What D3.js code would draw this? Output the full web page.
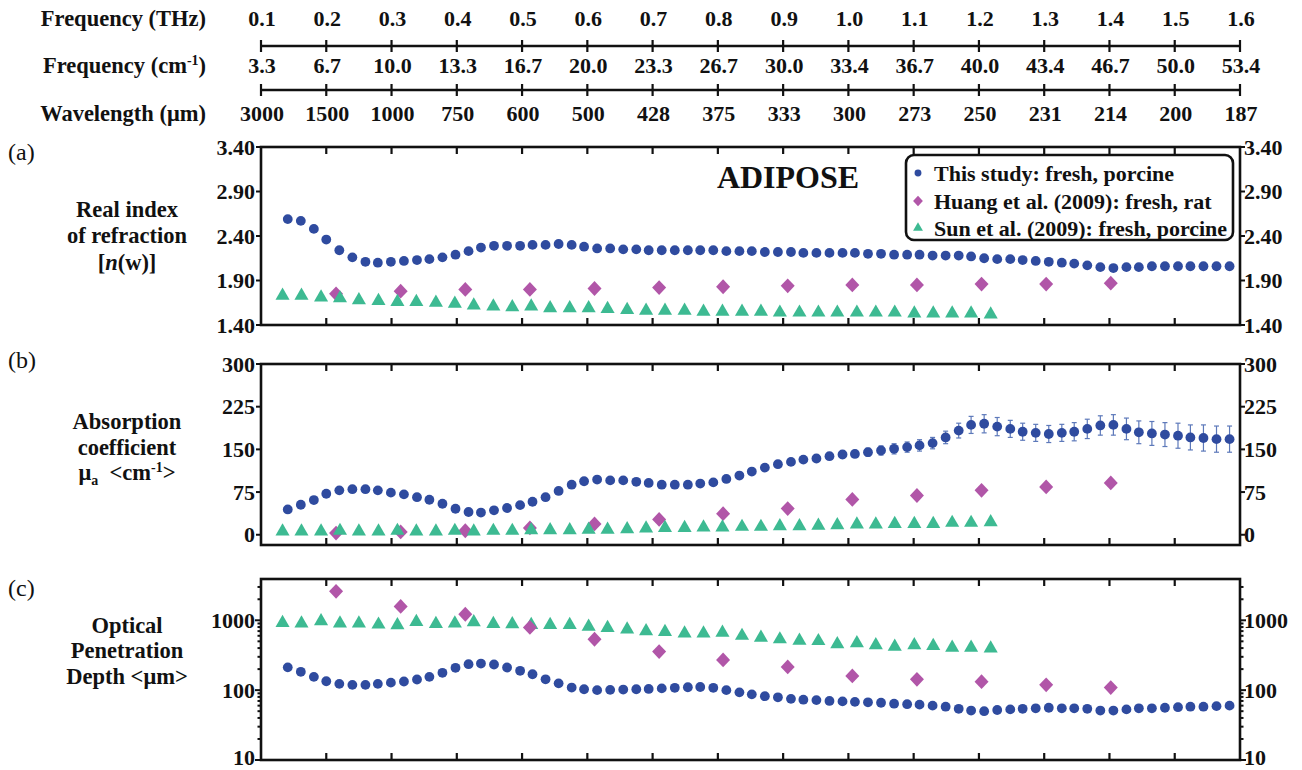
<!DOCTYPE html>
<html>
<head>
<meta charset="utf-8">
<script src="https://cdn.jsdelivr.net/npm/d3@7"></script>
<style>
  body { margin: 0; background: #fff; }
  svg { display: block; }
  text { font-family: "Liberation Serif", "Times New Roman", "DejaVu Serif", serif; font-weight: bold; fill: #111; }
</style>
</head>
<body>
<svg id="chart" width="1302" height="770"></svg>
<script>
// ---- top frequency / wavelength scales
const thzTicks = [0.1, 0.2, 0.3, 0.4, 0.5, 0.6, 0.7, 0.8, 0.9, 1.0, 1.1, 1.2, 1.3, 1.4, 1.5, 1.6];
const cmLabels = ["3.3", "6.7", "10.0", "13.3", "16.7", "20.0", "23.3", "26.7", "30.0", "33.4", "36.7", "40.0", "43.4", "46.7", "50.0", "53.4"];
const wlLabels = ["3000", "1500", "1000", "750", "600", "500", "428", "375", "333", "300", "273", "250", "231", "214", "200", "187"];

// ---- this study: fresh, porcine
const studyThz = [0.141, 0.161, 0.181, 0.200, 0.220, 0.240, 0.260, 0.279, 0.299, 0.319,
  0.339, 0.358, 0.378, 0.398, 0.418, 0.437, 0.457, 0.477, 0.497, 0.516,
  0.536, 0.556, 0.576, 0.595, 0.615, 0.635, 0.655, 0.675, 0.694, 0.714,
  0.734, 0.754, 0.773, 0.793, 0.813, 0.833, 0.852, 0.872, 0.892, 0.912,
  0.931, 0.951, 0.971, 0.991, 1.010, 1.030, 1.050, 1.070, 1.090, 1.109,
  1.129, 1.149, 1.169, 1.188, 1.208, 1.228, 1.248, 1.267, 1.287, 1.307,
  1.327, 1.346, 1.366, 1.386, 1.406, 1.426, 1.445, 1.465, 1.485, 1.505,
  1.524, 1.544, 1.564, 1.584];
const studyN = [2.59, 2.57, 2.48, 2.36, 2.24, 2.16, 2.11, 2.10, 2.11, 2.12,
  2.13, 2.14, 2.16, 2.19, 2.23, 2.27, 2.29, 2.29, 2.29, 2.30,
  2.30, 2.31, 2.30, 2.28, 2.26, 2.26, 2.25, 2.25, 2.24, 2.24,
  2.24, 2.24, 2.24, 2.24, 2.23, 2.23, 2.23, 2.22, 2.22, 2.22,
  2.21, 2.21, 2.21, 2.21, 2.21, 2.20, 2.20, 2.19, 2.19, 2.19,
  2.18, 2.18, 2.18, 2.17, 2.15, 2.14, 2.14, 2.13, 2.12, 2.11,
  2.10, 2.09, 2.07, 2.05, 2.04, 2.05, 2.05, 2.06, 2.06, 2.06,
  2.06, 2.06, 2.06, 2.06];
const studyMua = [44.5, 52.7, 61, 72, 78, 80, 80, 78, 74, 71,
  66, 61.5, 54.5, 45.7, 40, 39, 43, 47, 52, 58,
  66, 77, 88, 94, 97, 95.5, 95.5, 93, 91, 88,
  88, 88, 90, 92, 98, 104, 111, 118, 124, 128,
  132, 134, 138, 141, 142, 145, 148, 151, 154, 157,
  161, 171, 183, 193, 195, 190, 186, 181, 179, 177,
  179, 181, 186, 192, 193, 186, 180, 178, 176, 174,
  171, 170, 168, 168];
const studyMuaErr = [3, 3, 3, 3, 3, 3, 3, 3, 3, 3,
  3, 3, 3, 3, 3, 3, 3, 3, 3, 3,
  3, 3, 3, 3, 3, 3, 3, 3, 3, 3,
  4, 4, 4, 4, 4, 4, 4, 4, 4, 4,
  5, 5, 5, 6, 6, 7, 8, 9, 9, 10,
  10, 11, 13, 15, 16, 16, 15, 15, 15, 15,
  15, 16, 17, 17, 18, 19, 20, 21, 21, 22,
  22, 23, 23, 23];
const studyDepth = [212, 183, 155, 134, 123, 119, 119, 123, 128, 133,
  142, 155, 177, 209, 235, 240, 233, 211, 189, 169,
  143, 125, 109, 103, 100, 101, 102, 103, 104, 106,
  108, 110, 111, 108, 100, 93, 87, 82, 79, 75,
  73, 72, 70, 69, 68, 67, 66, 64, 63, 62,
  60, 58, 54, 51, 50, 52, 53, 54, 55, 56,
  55, 55, 54, 51, 51, 53, 55, 55, 56, 57,
  58, 58, 59, 60];

// ---- Huang et al. (2009): fresh, rat
const huangThz = [0.215, 0.314, 0.413, 0.512, 0.611, 0.710, 0.808, 0.907, 1.006, 1.105, 1.204, 1.303, 1.402];
const huangN = [1.75, 1.78, 1.80, 1.80, 1.81, 1.82, 1.83, 1.84, 1.85, 1.85, 1.86, 1.86, 1.87];
const huangMua = [3, 5, 7, 12, 19, 27, 37, 46, 62, 69, 78, 84, 91];
const huangDepth = [2600, 1580, 1220, 790, 535, 357, 271, 215, 160, 143, 132, 119, 109];

// ---- Sun et al. (2009): fresh, porcine
const sunThz = [0.133, 0.162, 0.192, 0.221, 0.250, 0.280, 0.309, 0.338, 0.368, 0.397,
  0.426, 0.456, 0.485, 0.514, 0.543, 0.573, 0.602, 0.631, 0.661, 0.690,
  0.719, 0.749, 0.778, 0.807, 0.837, 0.866, 0.895, 0.925, 0.954, 0.983,
  1.013, 1.042, 1.071, 1.101, 1.130, 1.159, 1.188, 1.218];
const sunN = [1.73, 1.73, 1.71, 1.70, 1.68, 1.67, 1.66, 1.66, 1.65, 1.64,
  1.62, 1.61, 1.60, 1.61, 1.59, 1.59, 1.59, 1.58, 1.57, 1.56,
  1.56, 1.56, 1.55, 1.55, 1.55, 1.55, 1.54, 1.54, 1.54, 1.54,
  1.54, 1.54, 1.54, 1.53, 1.53, 1.53, 1.53, 1.52];
const sunMua = [6, 6, 6, 7, 6, 6, 7, 6, 6, 7,
  6, 7, 7, 8, 8, 8, 9, 9, 10, 11,
  12, 12, 13, 13, 14, 14, 15, 15, 16, 17,
  18, 18, 19, 19, 19, 21, 21, 22];
const sunDepth = [920, 900, 970, 900, 900, 870, 850, 950, 890, 900,
  940, 890, 880, 860, 860, 860, 810, 780, 740, 700,
  680, 650, 650, 665, 600, 565, 535, 510, 505, 455,
  470, 440, 420, 440, 430, 405, 405, 395];

const legendNames = ["This study: fresh, porcine", "Huang et al. (2009): fresh, rat", "Sun et al. (2009): fresh, porcine"];

const blue = "#2f4b9f", magenta = "#b156a8", teal = "#3dba92", errColor = "#5d79ba";
const numSize = 22, labelSize = 22.5;

const svg = d3.select("#chart");
const x = d3.scaleLinear().domain([0.1, 1.6]).range([261, 1240]);

// rich text helper: parts = [{t, italic, sub, sup}]
function richText(g, px, py, parts, opts = {}) {
  const size = opts.size || labelSize;
  const t = g.append("text")
    .attr("x", px).attr("y", py)
    .attr("text-anchor", opts.anchor || "middle")
    .style("font-size", size + "px")
    .attr("xml:space", "preserve");
  let shift = 0;
  parts.forEach(p => {
    let target = p.sub ? 5 : p.sup ? -8 : 0;
    const s = t.append("tspan").text(p.t).attr("dy", target - shift);
    shift = target;
    if (p.italic) s.style("font-style", "italic");
    if (p.sub || p.sup) s.style("font-size", size * 0.62 + "px");
  });
  return t;
}

// ---- top scales
const topG = svg.append("g");
const topRows = [
  {label: [{t: "Frequency (THz)"}], vals: thzTicks.map(d => d.toFixed(1)), y: 26},
  {label: [{t: "Frequency (cm"}, {t: "-1", sup: true}, {t: ")"}], vals: cmLabels, y: 73},
  {label: [{t: "Wavelength (μm)"}], vals: wlLabels, y: 121}
];
topRows.forEach(row => {
  richText(topG, 206, row.y, row.label, {anchor: "end", size: labelSize});
  topG.selectAll(null).data(thzTicks).enter().append("text")
    .attr("x", (d, i) => x(d) + 1)
    .attr("y", row.y)
    .attr("text-anchor", "middle")
    .style("font-size", numSize + "px")
    .text((d, i) => row.vals[i]);
});
[46, 90].forEach(ly => {
  topG.append("line").attr("x1", x(0.1)).attr("x2", x(1.6)).attr("y1", ly).attr("y2", ly)
    .attr("stroke", "#111").attr("stroke-width", 2.5);
  topG.selectAll(null).data(thzTicks).enter().append("line")
    .attr("x1", d => x(d)).attr("x2", d => x(d))
    .attr("y1", ly - 6).attr("y2", ly + 6)
    .attr("stroke", "#111").attr("stroke-width", 2.2);
});

// ---- panels
const panels = [
  {
    tag: "(a)", tagY: 160, top: 147, bottom: 325,
    y: d3.scaleLinear().domain([1.4, 3.4]),
    ticks: [1.4, 1.9, 2.4, 2.9, 3.4], fmt: d3.format(".2f"),
    title: [[{t: "Real index"}], [{t: "of refraction"}], [{t: "["}, {t: "n", italic: true}, {t: "(w)]"}]],
    titleY: [217, 243, 270],
    series: [
      {thz: huangThz, v: huangN, type: "diamond", color: magenta},
      {thz: sunThz, v: sunN, type: "triangle", color: teal},
      {thz: studyThz, v: studyN, type: "circle", color: blue}
    ]
  },
  {
    tag: "(b)", tagY: 368, top: 364, bottom: 545,
    y: d3.scaleLinear().domain([-18, 300]),
    ticks: [0, 75, 150, 225, 300], fmt: d3.format("d"),
    title: [[{t: "Absorption"}], [{t: "coefficient"}], [{t: "μ"}, {t: "a", sub: true}, {t: "  <cm"}, {t: "-1", sup: true}, {t: ">"}]],
    titleY: [429, 455, 480],
    series: [
      {thz: huangThz, v: huangMua, type: "diamond", color: magenta},
      {thz: sunThz, v: sunMua, type: "triangle", color: teal},
      {thz: studyThz, v: studyMua, err: studyMuaErr, type: "circle", color: blue}
    ]
  },
  {
    tag: "(c)", tagY: 596, top: 579, bottom: 760, log: true,
    y: d3.scaleLog().domain([10, 3900]),
    ticks: [10, 100, 1000], fmt: d3.format("d"),
    title: [[{t: "Optical"}], [{t: "Penetration"}], [{t: "Depth <μm>"}]],
    titleY: [633, 658, 684],
    series: [
      {thz: sunThz, v: sunDepth, type: "triangle", color: teal},
      {thz: huangThz, v: huangDepth, type: "diamond", color: magenta},
      {thz: studyThz, v: studyDepth, type: "circle", color: blue}
    ]
  }
];

function markerPath(type, scale = 1) {
  if (type === "circle") return d3.symbol(d3.symbolCircle, Math.PI * 4.9 * 4.9 * scale * scale)();
  if (type === "triangle") return d3.symbol(d3.symbolTriangle, 86 * scale * scale)();
  const h = 7.4 * scale, w = 7 * scale;
  return `M0,${-h}L${w},0L0,${h}L${-w},0Z`;
}

const x0 = x(0.1), x1 = x(1.6);
panels.forEach(p => {
  p.y.range([p.bottom, p.top]);
  const g = svg.append("g");

  g.append("text").attr("x", 8).attr("y", p.tagY)
    .style("font-size", "24px").style("font-weight", "normal").text(p.tag);

  p.title.forEach((line, i) => richText(g, 127, p.titleY[i], line, {size: labelSize}));

  // left / right tick labels (keep the bottom one inside the page)
  p.ticks.forEach(t => {
    const ty = Math.min(p.y(t) + 7.5, 765);
    g.append("text").attr("x", x0 - 6).attr("y", ty)
      .attr("text-anchor", "end").style("font-size", numSize + "px").text(p.fmt(t));
    g.append("text").attr("x", x1 + 4).attr("y", ty)
      .attr("text-anchor", "start").style("font-size", numSize + "px").text(p.fmt(t));
  });

  // outward ticks on left / right
  let yt = p.ticks.map(t => ({v: t, len: 5}));
  if (p.log) {
    yt = [];
    [10, 100, 1000].forEach(dec => {
      for (let m = 1; m <= 9; m++) {
        const v = dec * m;
        if (v <= p.y.domain()[1]) yt.push({v, len: m === 1 ? 6 : 3.5});
      }
    });
  }
  yt.forEach(t => {
    g.append("line").attr("x1", x0 - t.len).attr("x2", x0).attr("y1", p.y(t.v)).attr("y2", p.y(t.v))
      .attr("stroke", "#111").attr("stroke-width", 2);
    g.append("line").attr("x1", x1).attr("x2", x1 + t.len).attr("y1", p.y(t.v)).attr("y2", p.y(t.v))
      .attr("stroke", "#111").attr("stroke-width", 2);
  });

  // inner ticks on top / bottom
  thzTicks.slice(1, -1).forEach(t => {
    g.append("line").attr("x1", x(t)).attr("x2", x(t)).attr("y1", p.top).attr("y2", p.top + 7)
      .attr("stroke", "#111").attr("stroke-width", 2.2);
    g.append("line").attr("x1", x(t)).attr("x2", x(t)).attr("y1", p.bottom).attr("y2", p.bottom - 7)
      .attr("stroke", "#111").attr("stroke-width", 2.2);
  });

  // data
  p.series.forEach(s => {
    const pts = s.thz.map((f, i) => ({f, v: s.v[i], e: s.err ? s.err[i] : 0}));
    if (s.err) {
      const eg = g.append("g").attr("stroke", errColor).attr("stroke-width", 1.2);
      pts.forEach(d => {
        const cx = x(d.f), ya = p.y(d.v - d.e), yb = p.y(d.v + d.e);
        eg.append("line").attr("x1", cx).attr("x2", cx).attr("y1", ya).attr("y2", yb);
        eg.append("line").attr("x1", cx - 2.5).attr("x2", cx + 2.5).attr("y1", ya).attr("y2", ya);
        eg.append("line").attr("x1", cx - 2.5).attr("x2", cx + 2.5).attr("y1", yb).attr("y2", yb);
      });
    }
    g.selectAll(null).data(pts).enter().append("path")
      .attr("d", markerPath(s.type))
      .attr("transform", d => `translate(${x(d.f)},${p.y(d.v)})`)
      .attr("fill", s.color);
  });

  // frame
  g.append("rect").attr("x", x0).attr("y", p.top).attr("width", x1 - x0).attr("height", p.bottom - p.top)
    .attr("fill", "none").attr("stroke", "#111").attr("stroke-width", 2.6);
});

// ---- annotation and legend (panel a)
svg.append("text").attr("x", 788).attr("y", 188).attr("text-anchor", "middle")
  .style("font-size", "32px").text("ADIPOSE");

const lg = svg.append("g");
lg.append("rect").attr("x", 906).attr("y", 155).attr("width", 327).attr("height", 85)
  .attr("rx", 8).attr("fill", "#fff").attr("stroke", "#111").attr("stroke-width", 2.6);
const legendTypes = [["circle", blue], ["diamond", magenta], ["triangle", teal]];
const legendY = [173, 201, 228];
legendNames.forEach((name, i) => {
  lg.append("path").attr("d", markerPath(legendTypes[i][0], 0.7))
    .attr("transform", `translate(918,${legendY[i]})`).attr("fill", legendTypes[i][1]);
  lg.append("text").attr("x", 934).attr("y", legendY[i] + 7.5)
    .style("font-size", numSize + "px").text(name);
});
</script>
</body>
</html>
